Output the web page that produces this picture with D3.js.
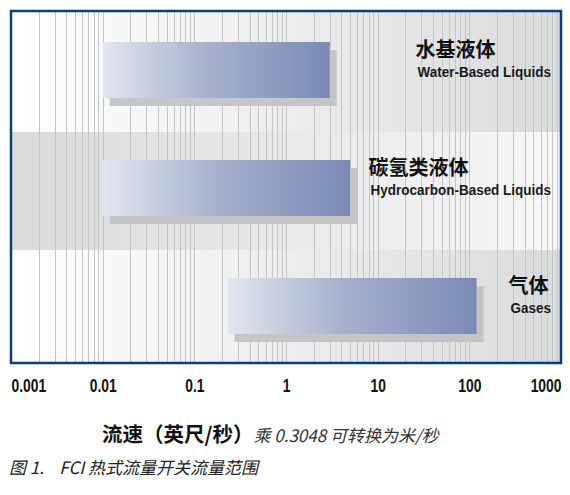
<!DOCTYPE html>
<html>
<head>
<meta charset="utf-8">
<script src="https://cdn.jsdelivr.net/npm/d3@7"></script>
<style>
  body { margin: 0; background: #fff; }
  svg { display: block; }
</style>
</head>
<body>
<div id="chart"></div>
<script>
// flow ranges (ft/s) per fluid type
const categories = ["水基液体", "碳氢类液体", "气体"];
const categoriesEn = ["Water-Based Liquids", "Hydrocarbon-Based Liquids", "Gases"];
const rangeMin = [0.01, 0.01, 0.23];
const rangeMax = [3, 5, 120];
const tickValues = [0.001, 0.01, 0.1, 1, 10, 100, 1000];
const tickLabels = ["0.001", "0.01", "0.1", "1", "10", "100", "1000"];

const width = 570, height = 495;
const plot = { left: 11, top: 11, right: 561, bottom: 363 };
const sans = "'Liberation Sans', Arial, sans-serif";
const cjk = "'Noto Sans CJK SC', 'Microsoft YaHei', sans-serif";

const svg = d3.select("#chart").append("svg")
    .attr("width", width)
    .attr("height", height);

const defs = svg.append("defs");

const x = d3.scaleLog().domain([0.001, 1000]).range([plot.left, plot.right]);
const y = d3.scaleBand().domain(categories).range([plot.top + 3, plot.bottom + 5]);

// band backgrounds, alternating direction of the grey fade
["bandR", "bandL"].forEach((id, k) => {
    const g = defs.append("linearGradient").attr("id", id);
    g.append("stop").attr("offset", "0%").attr("stop-color", k ? "#d9dadc" : "#ffffff");
    g.append("stop").attr("offset", "100%").attr("stop-color", k ? "#f7f7f8" : "#d9dbdd");
});
const barGrad = defs.append("linearGradient").attr("id", "barGrad");
barGrad.append("stop").attr("offset", "0%").attr("stop-color", "#e2e6f0");
barGrad.append("stop").attr("offset", "45%").attr("stop-color", "#a7b2cd");
barGrad.append("stop").attr("offset", "100%").attr("stop-color", "#7a8ab6");

const chart = svg.append("g");

chart.selectAll(".band").data(categories).join("rect")
    .attr("class", "band")
    .attr("x", plot.left)
    .attr("y", (d, i) => i === 0 ? plot.top : y(d))
    .attr("width", plot.right - plot.left)
    .attr("height", (d, i) => i === 0 ? y(d) + y.bandwidth() - plot.top : Math.min(y.bandwidth(), plot.bottom - y(d)))
    .attr("fill", (d, i) => i % 2 ? "url(#bandL)" : "url(#bandR)");

const barH = 56;
const barY = d => y(d) + y.bandwidth() / 2 - barH / 2 - 3;

// shadows sit under the grid
chart.selectAll(".shadow").data(categories).join("rect")
    .attr("class", "shadow")
    .attr("x", (d, i) => x(rangeMin[i]) + 7)
    .attr("y", d => barY(d) + 8)
    .attr("width", (d, i) => x(rangeMax[i]) - x(rangeMin[i]))
    .attr("height", barH)
    .attr("fill", "#bdbec1")
    .attr("opacity", 0.85);

// minor log grid
const gridVals = [];
tickValues.slice(0, -1).forEach(dec => {
    d3.range(1, 10).forEach(m => gridVals.push(dec * m));
});
chart.selectAll(".grid").data(gridVals.slice(1)).join("line")
    .attr("class", "grid")
    .attr("x1", d => Math.round(x(d)) + 0.5)
    .attr("x2", d => Math.round(x(d)) + 0.5)
    .attr("y1", plot.top)
    .attr("y2", plot.bottom)
    .attr("stroke", "#c4c5c7")
    .attr("stroke-width", 1);

chart.selectAll(".bar").data(categories).join("rect")
    .attr("class", "bar")
    .attr("x", (d, i) => x(rangeMin[i]))
    .attr("y", d => barY(d))
    .attr("width", (d, i) => x(rangeMax[i]) - x(rangeMin[i]))
    .attr("height", barH)
    .attr("fill", "url(#barGrad)");

// labels: english right-aligned (squeezed, no narrow font here), chinese starts where english starts
const labelRight = 551;
const enScale = 0.87;
const labels = chart.selectAll(".label").data(categories).join("g").attr("class", "label");
labels.each(function (d, i) {
    const g = d3.select(this);
    const cy = barY(d) + barH / 2;
    const en = g.append("text")
        .text(categoriesEn[i])
        .attr("transform", `translate(${labelRight},${cy + 6.5}) scale(${enScale},1)`)
        .attr("text-anchor", "end")
        .attr("font-family", sans)
        .attr("font-weight", "bold")
        .attr("font-size", 15.5)
        .attr("fill", "#1a1a1a");
    const start = labelRight - en.node().getComputedTextLength() * enScale;
    g.append("text")
        .text(d)
        .attr("x", start - 2)
        .attr("y", cy - 13.5)
        .attr("font-family", cjk)
        .attr("font-weight", "bold")
        .attr("font-size", 20)
        .attr("fill", "#111");
});

// plot frame
chart.append("rect")
    .attr("x", plot.left)
    .attr("y", plot.top)
    .attr("width", plot.right - plot.left)
    .attr("height", plot.bottom - plot.top)
    .attr("fill", "none")
    .attr("stroke", "#0c3d7c")
    .attr("stroke-width", 2.5);

// x axis
const xAxis = d3.axisBottom(x)
    .tickValues(tickValues)
    .tickFormat((d, i) => tickLabels[i])
    .tickSize(0)
    .tickPadding(0);
const axisG = svg.append("g")
    .attr("transform", `translate(0,${plot.bottom})`)
    .call(xAxis);
axisG.select(".domain").remove();
axisG.selectAll("text")
    .attr("y", 0)
    .attr("dy", 0)
    .attr("transform", "translate(0,29) scale(0.73,1)")
    .attr("font-family", sans)
    .attr("font-weight", "bold")
    .attr("font-size", 19)
    .attr("fill", "#111")
    .attr("text-anchor", (d, i, arr) => i === 0 ? "start" : i === arr.length - 1 ? "end" : "middle");

// axis title
const title = svg.append("text")
    .attr("x", 102)
    .attr("y", 442)
    .style("white-space", "pre")
    .attr("font-family", cjk)
    .attr("fill", "#111");
title.append("tspan")
    .text("流速（英尺/秒）")
    .attr("font-weight", "bold")
    .attr("font-size", 20.5);
title.append("tspan")
    .text("乘 0.3048 可转换为米/秒")
    .attr("font-style", "italic")
    .attr("font-size", 17)
    .attr("fill", "#333");

svg.append("text")
    .text("图 1.    FCI 热式流量开关流量范围")
    .attr("x", 9)
    .attr("y", 474)
    .style("white-space", "pre")
    .attr("font-family", cjk)
    .attr("font-style", "italic")
    .attr("font-size", 17)
    .attr("fill", "#222");
</script>
</body>
</html>
